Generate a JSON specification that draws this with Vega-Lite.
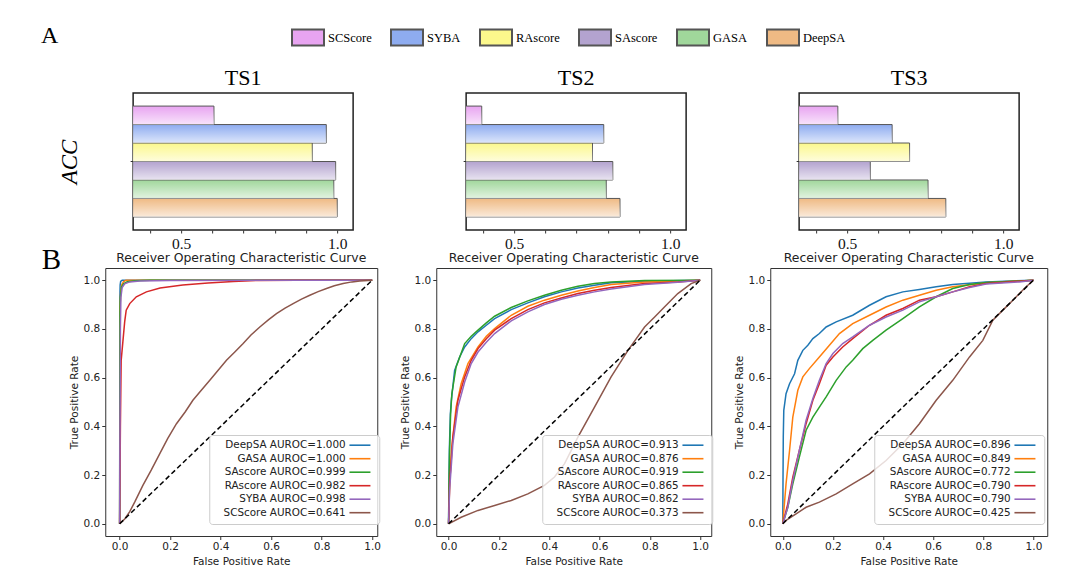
{
  "$schema": "https://vega.github.io/schema/vega-lite/v6.json",
  "background": "white",
  "padding": {"left": 41, "top": 20, "right": 5, "bottom": 5},
  "config": {
    "font": "DejaVu Sans",
    "view": {"stroke": "#333", "strokeWidth": 1},
    "axis": {"grid": false, "domain": false, "tickColor": "#333", "labelColor": "#222", "titleColor": "#222", "titleFontWeight": "normal", "labelFlush": false},
    "title": {"fontWeight": "normal", "color": "#111"}
  },
  "datasets": {
    "acc": [
      {"panel": "TS1", "metric": "ACC", "model": "SCScore", "acc": 0.605},
      {"panel": "TS1", "metric": "ACC", "model": "SYBA", "acc": 0.965},
      {"panel": "TS1", "metric": "ACC", "model": "RAscore", "acc": 0.92},
      {"panel": "TS1", "metric": "ACC", "model": "SAscore", "acc": 0.995},
      {"panel": "TS1", "metric": "ACC", "model": "GASA", "acc": 0.989},
      {"panel": "TS1", "metric": "ACC", "model": "DeepSA", "acc": 1.0},
      {"panel": "TS2", "metric": "ACC", "model": "SCScore", "acc": 0.396},
      {"panel": "TS2", "metric": "ACC", "model": "SYBA", "acc": 0.787},
      {"panel": "TS2", "metric": "ACC", "model": "RAscore", "acc": 0.751},
      {"panel": "TS2", "metric": "ACC", "model": "SAscore", "acc": 0.816},
      {"panel": "TS2", "metric": "ACC", "model": "GASA", "acc": 0.795},
      {"panel": "TS2", "metric": "ACC", "model": "DeepSA", "acc": 0.839},
      {"panel": "TS3", "metric": "ACC", "model": "SCScore", "acc": 0.47},
      {"panel": "TS3", "metric": "ACC", "model": "SYBA", "acc": 0.644},
      {"panel": "TS3", "metric": "ACC", "model": "RAscore", "acc": 0.7},
      {"panel": "TS3", "metric": "ACC", "model": "SAscore", "acc": 0.574},
      {"panel": "TS3", "metric": "ACC", "model": "GASA", "acc": 0.759},
      {"panel": "TS3", "metric": "ACC", "model": "DeepSA", "acc": 0.816}
    ],
    "diag": [{"x": 0, "y": 0}, {"x": 1, "y": 1}],
    "roc": [
      {"p":"TS1","m":"DeepSA","x":0,"y":0},{"p":"TS1","m":"DeepSA","x":0.001,"y":0.93},{"p":"TS1","m":"DeepSA","x":0.002,"y":0.98},{"p":"TS1","m":"DeepSA","x":0.004,"y":0.995},{"p":"TS1","m":"DeepSA","x":0.01,"y":1},{"p":"TS1","m":"DeepSA","x":1,"y":1},
      {"p":"TS1","m":"GASA","x":0,"y":0},{"p":"TS1","m":"GASA","x":0.0015,"y":0.88},{"p":"TS1","m":"GASA","x":0.004,"y":0.95},{"p":"TS1","m":"GASA","x":0.008,"y":0.98},{"p":"TS1","m":"GASA","x":0.015,"y":0.993},{"p":"TS1","m":"GASA","x":0.025,"y":1},{"p":"TS1","m":"GASA","x":1,"y":1},
      {"p":"TS1","m":"SAscore","x":0,"y":0},{"p":"TS1","m":"SAscore","x":0.0012,"y":0.86},{"p":"TS1","m":"SAscore","x":0.003,"y":0.93},{"p":"TS1","m":"SAscore","x":0.007,"y":0.97},{"p":"TS1","m":"SAscore","x":0.015,"y":0.985},{"p":"TS1","m":"SAscore","x":0.03,"y":0.994},{"p":"TS1","m":"SAscore","x":0.06,"y":0.998},{"p":"TS1","m":"SAscore","x":0.12,"y":1},{"p":"TS1","m":"SAscore","x":1,"y":1},
      {"p":"TS1","m":"RAscore","x":0,"y":0},{"p":"TS1","m":"RAscore","x":0.003,"y":0.4},{"p":"TS1","m":"RAscore","x":0.006,"y":0.67},{"p":"TS1","m":"RAscore","x":0.013,"y":0.75},{"p":"TS1","m":"RAscore","x":0.02,"y":0.83},{"p":"TS1","m":"RAscore","x":0.026,"y":0.877},{"p":"TS1","m":"RAscore","x":0.04,"y":0.904},{"p":"TS1","m":"RAscore","x":0.066,"y":0.932},{"p":"TS1","m":"RAscore","x":0.106,"y":0.952},{"p":"TS1","m":"RAscore","x":0.16,"y":0.968},{"p":"TS1","m":"RAscore","x":0.25,"y":0.98},{"p":"TS1","m":"RAscore","x":0.35,"y":0.988},{"p":"TS1","m":"RAscore","x":0.45,"y":0.995},{"p":"TS1","m":"RAscore","x":0.55,"y":0.999},{"p":"TS1","m":"RAscore","x":0.7,"y":1},{"p":"TS1","m":"RAscore","x":1,"y":1},
      {"p":"TS1","m":"SYBA","x":0,"y":0},{"p":"TS1","m":"SYBA","x":0.0015,"y":0.4},{"p":"TS1","m":"SYBA","x":0.003,"y":0.8},{"p":"TS1","m":"SYBA","x":0.005,"y":0.93},{"p":"TS1","m":"SYBA","x":0.01,"y":0.97},{"p":"TS1","m":"SYBA","x":0.02,"y":0.985},{"p":"TS1","m":"SYBA","x":0.04,"y":0.993},{"p":"TS1","m":"SYBA","x":0.08,"y":0.997},{"p":"TS1","m":"SYBA","x":0.2,"y":0.999},{"p":"TS1","m":"SYBA","x":1,"y":1},
      {"p":"TS1","m":"SCScore","x":0,"y":0},{"p":"TS1","m":"SCScore","x":0.02,"y":0.02},{"p":"TS1","m":"SCScore","x":0.04,"y":0.05},{"p":"TS1","m":"SCScore","x":0.06,"y":0.09},{"p":"TS1","m":"SCScore","x":0.092,"y":0.158},{"p":"TS1","m":"SCScore","x":0.125,"y":0.22},{"p":"TS1","m":"SCScore","x":0.159,"y":0.288},{"p":"TS1","m":"SCScore","x":0.19,"y":0.35},{"p":"TS1","m":"SCScore","x":0.225,"y":0.411},{"p":"TS1","m":"SCScore","x":0.26,"y":0.46},{"p":"TS1","m":"SCScore","x":0.29,"y":0.507},{"p":"TS1","m":"SCScore","x":0.325,"y":0.55},{"p":"TS1","m":"SCScore","x":0.357,"y":0.589},{"p":"TS1","m":"SCScore","x":0.39,"y":0.63},{"p":"TS1","m":"SCScore","x":0.423,"y":0.671},{"p":"TS1","m":"SCScore","x":0.456,"y":0.705},{"p":"TS1","m":"SCScore","x":0.489,"y":0.74},{"p":"TS1","m":"SCScore","x":0.52,"y":0.775},{"p":"TS1","m":"SCScore","x":0.555,"y":0.808},{"p":"TS1","m":"SCScore","x":0.59,"y":0.838},{"p":"TS1","m":"SCScore","x":0.621,"y":0.863},{"p":"TS1","m":"SCScore","x":0.655,"y":0.885},{"p":"TS1","m":"SCScore","x":0.687,"y":0.904},{"p":"TS1","m":"SCScore","x":0.72,"y":0.922},{"p":"TS1","m":"SCScore","x":0.753,"y":0.938},{"p":"TS1","m":"SCScore","x":0.786,"y":0.953},{"p":"TS1","m":"SCScore","x":0.819,"y":0.966},{"p":"TS1","m":"SCScore","x":0.85,"y":0.977},{"p":"TS1","m":"SCScore","x":0.885,"y":0.986},{"p":"TS1","m":"SCScore","x":0.92,"y":0.993},{"p":"TS1","m":"SCScore","x":0.951,"y":0.997},{"p":"TS1","m":"SCScore","x":1,"y":1},
      {"p":"TS2","m":"DeepSA","x":0,"y":0},{"p":"TS2","m":"DeepSA","x":0.003,"y":0.3},{"p":"TS2","m":"DeepSA","x":0.007,"y":0.45},{"p":"TS2","m":"DeepSA","x":0.011,"y":0.507},{"p":"TS2","m":"DeepSA","x":0.024,"y":0.63},{"p":"TS2","m":"DeepSA","x":0.044,"y":0.685},{"p":"TS2","m":"DeepSA","x":0.064,"y":0.726},{"p":"TS2","m":"DeepSA","x":0.09,"y":0.76},{"p":"TS2","m":"DeepSA","x":0.117,"y":0.788},{"p":"TS2","m":"DeepSA","x":0.15,"y":0.815},{"p":"TS2","m":"DeepSA","x":0.183,"y":0.842},{"p":"TS2","m":"DeepSA","x":0.249,"y":0.879},{"p":"TS2","m":"DeepSA","x":0.315,"y":0.907},{"p":"TS2","m":"DeepSA","x":0.381,"y":0.932},{"p":"TS2","m":"DeepSA","x":0.448,"y":0.952},{"p":"TS2","m":"DeepSA","x":0.514,"y":0.968},{"p":"TS2","m":"DeepSA","x":0.58,"y":0.979},{"p":"TS2","m":"DeepSA","x":0.646,"y":0.989},{"p":"TS2","m":"DeepSA","x":0.779,"y":0.996},{"p":"TS2","m":"DeepSA","x":1,"y":1},
      {"p":"TS2","m":"GASA","x":0,"y":0},{"p":"TS2","m":"GASA","x":0.004,"y":0.15},{"p":"TS2","m":"GASA","x":0.011,"y":0.3},{"p":"TS2","m":"GASA","x":0.03,"y":0.479},{"p":"TS2","m":"GASA","x":0.05,"y":0.575},{"p":"TS2","m":"GASA","x":0.077,"y":0.658},{"p":"TS2","m":"GASA","x":0.117,"y":0.726},{"p":"TS2","m":"GASA","x":0.15,"y":0.77},{"p":"TS2","m":"GASA","x":0.183,"y":0.801},{"p":"TS2","m":"GASA","x":0.249,"y":0.856},{"p":"TS2","m":"GASA","x":0.315,"y":0.893},{"p":"TS2","m":"GASA","x":0.381,"y":0.918},{"p":"TS2","m":"GASA","x":0.448,"y":0.938},{"p":"TS2","m":"GASA","x":0.514,"y":0.956},{"p":"TS2","m":"GASA","x":0.58,"y":0.97},{"p":"TS2","m":"GASA","x":0.646,"y":0.982},{"p":"TS2","m":"GASA","x":0.779,"y":0.993},{"p":"TS2","m":"GASA","x":1,"y":1},
      {"p":"TS2","m":"SAscore","x":0,"y":0},{"p":"TS2","m":"SAscore","x":0.002,"y":0.2},{"p":"TS2","m":"SAscore","x":0.004,"y":0.3},{"p":"TS2","m":"SAscore","x":0.008,"y":0.45},{"p":"TS2","m":"SAscore","x":0.013,"y":0.534},{"p":"TS2","m":"SAscore","x":0.03,"y":0.644},{"p":"TS2","m":"SAscore","x":0.064,"y":0.74},{"p":"TS2","m":"SAscore","x":0.09,"y":0.77},{"p":"TS2","m":"SAscore","x":0.117,"y":0.795},{"p":"TS2","m":"SAscore","x":0.15,"y":0.825},{"p":"TS2","m":"SAscore","x":0.183,"y":0.852},{"p":"TS2","m":"SAscore","x":0.249,"y":0.888},{"p":"TS2","m":"SAscore","x":0.315,"y":0.915},{"p":"TS2","m":"SAscore","x":0.381,"y":0.938},{"p":"TS2","m":"SAscore","x":0.448,"y":0.959},{"p":"TS2","m":"SAscore","x":0.514,"y":0.975},{"p":"TS2","m":"SAscore","x":0.58,"y":0.986},{"p":"TS2","m":"SAscore","x":0.646,"y":0.993},{"p":"TS2","m":"SAscore","x":0.779,"y":0.999},{"p":"TS2","m":"SAscore","x":1,"y":1},
      {"p":"TS2","m":"RAscore","x":0,"y":0},{"p":"TS2","m":"RAscore","x":0.004,"y":0.164},{"p":"TS2","m":"RAscore","x":0.017,"y":0.356},{"p":"TS2","m":"RAscore","x":0.037,"y":0.507},{"p":"TS2","m":"RAscore","x":0.064,"y":0.603},{"p":"TS2","m":"RAscore","x":0.09,"y":0.671},{"p":"TS2","m":"RAscore","x":0.117,"y":0.719},{"p":"TS2","m":"RAscore","x":0.15,"y":0.76},{"p":"TS2","m":"RAscore","x":0.183,"y":0.795},{"p":"TS2","m":"RAscore","x":0.249,"y":0.842},{"p":"TS2","m":"RAscore","x":0.315,"y":0.879},{"p":"TS2","m":"RAscore","x":0.381,"y":0.907},{"p":"TS2","m":"RAscore","x":0.448,"y":0.927},{"p":"TS2","m":"RAscore","x":0.514,"y":0.945},{"p":"TS2","m":"RAscore","x":0.58,"y":0.959},{"p":"TS2","m":"RAscore","x":0.646,"y":0.97},{"p":"TS2","m":"RAscore","x":0.779,"y":0.986},{"p":"TS2","m":"RAscore","x":0.911,"y":0.993},{"p":"TS2","m":"RAscore","x":1,"y":1},
      {"p":"TS2","m":"SYBA","x":0,"y":0},{"p":"TS2","m":"SYBA","x":0.004,"y":0.137},{"p":"TS2","m":"SYBA","x":0.017,"y":0.329},{"p":"TS2","m":"SYBA","x":0.037,"y":0.479},{"p":"TS2","m":"SYBA","x":0.064,"y":0.582},{"p":"TS2","m":"SYBA","x":0.09,"y":0.658},{"p":"TS2","m":"SYBA","x":0.117,"y":0.705},{"p":"TS2","m":"SYBA","x":0.15,"y":0.745},{"p":"TS2","m":"SYBA","x":0.183,"y":0.781},{"p":"TS2","m":"SYBA","x":0.249,"y":0.833},{"p":"TS2","m":"SYBA","x":0.315,"y":0.87},{"p":"TS2","m":"SYBA","x":0.381,"y":0.9},{"p":"TS2","m":"SYBA","x":0.448,"y":0.922},{"p":"TS2","m":"SYBA","x":0.514,"y":0.938},{"p":"TS2","m":"SYBA","x":0.58,"y":0.952},{"p":"TS2","m":"SYBA","x":0.646,"y":0.964},{"p":"TS2","m":"SYBA","x":0.779,"y":0.982},{"p":"TS2","m":"SYBA","x":0.911,"y":0.992},{"p":"TS2","m":"SYBA","x":1,"y":1},
      {"p":"TS2","m":"SCScore","x":0,"y":0},{"p":"TS2","m":"SCScore","x":0.05,"y":0.027},{"p":"TS2","m":"SCScore","x":0.117,"y":0.055},{"p":"TS2","m":"SCScore","x":0.183,"y":0.075},{"p":"TS2","m":"SCScore","x":0.249,"y":0.096},{"p":"TS2","m":"SCScore","x":0.315,"y":0.123},{"p":"TS2","m":"SCScore","x":0.381,"y":0.158},{"p":"TS2","m":"SCScore","x":0.421,"y":0.192},{"p":"TS2","m":"SCScore","x":0.461,"y":0.247},{"p":"TS2","m":"SCScore","x":0.514,"y":0.356},{"p":"TS2","m":"SCScore","x":0.58,"y":0.479},{"p":"TS2","m":"SCScore","x":0.646,"y":0.603},{"p":"TS2","m":"SCScore","x":0.713,"y":0.712},{"p":"TS2","m":"SCScore","x":0.779,"y":0.808},{"p":"TS2","m":"SCScore","x":0.819,"y":0.849},{"p":"TS2","m":"SCScore","x":0.858,"y":0.89},{"p":"TS2","m":"SCScore","x":0.911,"y":0.945},{"p":"TS2","m":"SCScore","x":0.964,"y":0.986},{"p":"TS2","m":"SCScore","x":1,"y":1},
      {"p":"TS3","m":"DeepSA","x":0,"y":0},{"p":"TS3","m":"DeepSA","x":0.001,"y":0.2},{"p":"TS3","m":"DeepSA","x":0.002,"y":0.356},{"p":"TS3","m":"DeepSA","x":0.004,"y":0.466},{"p":"TS3","m":"DeepSA","x":0.013,"y":0.534},{"p":"TS3","m":"DeepSA","x":0.027,"y":0.575},{"p":"TS3","m":"DeepSA","x":0.047,"y":0.616},{"p":"TS3","m":"DeepSA","x":0.06,"y":0.671},{"p":"TS3","m":"DeepSA","x":0.08,"y":0.712},{"p":"TS3","m":"DeepSA","x":0.1,"y":0.733},{"p":"TS3","m":"DeepSA","x":0.12,"y":0.76},{"p":"TS3","m":"DeepSA","x":0.146,"y":0.781},{"p":"TS3","m":"DeepSA","x":0.173,"y":0.808},{"p":"TS3","m":"DeepSA","x":0.213,"y":0.829},{"p":"TS3","m":"DeepSA","x":0.279,"y":0.856},{"p":"TS3","m":"DeepSA","x":0.346,"y":0.897},{"p":"TS3","m":"DeepSA","x":0.412,"y":0.932},{"p":"TS3","m":"DeepSA","x":0.479,"y":0.952},{"p":"TS3","m":"DeepSA","x":0.545,"y":0.962},{"p":"TS3","m":"DeepSA","x":0.612,"y":0.973},{"p":"TS3","m":"DeepSA","x":0.678,"y":0.982},{"p":"TS3","m":"DeepSA","x":0.811,"y":0.993},{"p":"TS3","m":"DeepSA","x":1,"y":1},
      {"p":"TS3","m":"GASA","x":0,"y":0},{"p":"TS3","m":"GASA","x":0.013,"y":0.164},{"p":"TS3","m":"GASA","x":0.027,"y":0.301},{"p":"TS3","m":"GASA","x":0.04,"y":0.438},{"p":"TS3","m":"GASA","x":0.06,"y":0.548},{"p":"TS3","m":"GASA","x":0.08,"y":0.603},{"p":"TS3","m":"GASA","x":0.106,"y":0.637},{"p":"TS3","m":"GASA","x":0.146,"y":0.685},{"p":"TS3","m":"GASA","x":0.186,"y":0.733},{"p":"TS3","m":"GASA","x":0.226,"y":0.781},{"p":"TS3","m":"GASA","x":0.279,"y":0.822},{"p":"TS3","m":"GASA","x":0.346,"y":0.856},{"p":"TS3","m":"GASA","x":0.412,"y":0.89},{"p":"TS3","m":"GASA","x":0.479,"y":0.918},{"p":"TS3","m":"GASA","x":0.545,"y":0.938},{"p":"TS3","m":"GASA","x":0.612,"y":0.959},{"p":"TS3","m":"GASA","x":0.678,"y":0.973},{"p":"TS3","m":"GASA","x":0.811,"y":0.989},{"p":"TS3","m":"GASA","x":1,"y":1},
      {"p":"TS3","m":"SAscore","x":0,"y":0},{"p":"TS3","m":"SAscore","x":0.02,"y":0.068},{"p":"TS3","m":"SAscore","x":0.04,"y":0.164},{"p":"TS3","m":"SAscore","x":0.066,"y":0.274},{"p":"TS3","m":"SAscore","x":0.093,"y":0.384},{"p":"TS3","m":"SAscore","x":0.12,"y":0.438},{"p":"TS3","m":"SAscore","x":0.146,"y":0.479},{"p":"TS3","m":"SAscore","x":0.173,"y":0.521},{"p":"TS3","m":"SAscore","x":0.213,"y":0.589},{"p":"TS3","m":"SAscore","x":0.253,"y":0.644},{"p":"TS3","m":"SAscore","x":0.279,"y":0.671},{"p":"TS3","m":"SAscore","x":0.319,"y":0.719},{"p":"TS3","m":"SAscore","x":0.359,"y":0.753},{"p":"TS3","m":"SAscore","x":0.412,"y":0.795},{"p":"TS3","m":"SAscore","x":0.479,"y":0.842},{"p":"TS3","m":"SAscore","x":0.545,"y":0.89},{"p":"TS3","m":"SAscore","x":0.612,"y":0.932},{"p":"TS3","m":"SAscore","x":0.678,"y":0.966},{"p":"TS3","m":"SAscore","x":0.745,"y":0.982},{"p":"TS3","m":"SAscore","x":0.811,"y":0.99},{"p":"TS3","m":"SAscore","x":0.944,"y":0.997},{"p":"TS3","m":"SAscore","x":1,"y":1},
      {"p":"TS3","m":"RAscore","x":0,"y":0},{"p":"TS3","m":"RAscore","x":0.02,"y":0.082},{"p":"TS3","m":"RAscore","x":0.04,"y":0.192},{"p":"TS3","m":"RAscore","x":0.066,"y":0.301},{"p":"TS3","m":"RAscore","x":0.093,"y":0.411},{"p":"TS3","m":"RAscore","x":0.12,"y":0.507},{"p":"TS3","m":"RAscore","x":0.146,"y":0.575},{"p":"TS3","m":"RAscore","x":0.173,"y":0.651},{"p":"TS3","m":"RAscore","x":0.2,"y":0.685},{"p":"TS3","m":"RAscore","x":0.239,"y":0.726},{"p":"TS3","m":"RAscore","x":0.279,"y":0.76},{"p":"TS3","m":"RAscore","x":0.346,"y":0.815},{"p":"TS3","m":"RAscore","x":0.412,"y":0.856},{"p":"TS3","m":"RAscore","x":0.479,"y":0.884},{"p":"TS3","m":"RAscore","x":0.545,"y":0.918},{"p":"TS3","m":"RAscore","x":0.612,"y":0.932},{"p":"TS3","m":"RAscore","x":0.678,"y":0.952},{"p":"TS3","m":"RAscore","x":0.745,"y":0.973},{"p":"TS3","m":"RAscore","x":0.811,"y":0.986},{"p":"TS3","m":"RAscore","x":0.944,"y":0.996},{"p":"TS3","m":"RAscore","x":1,"y":1},
      {"p":"TS3","m":"SYBA","x":0,"y":0},{"p":"TS3","m":"SYBA","x":0.02,"y":0.068},{"p":"TS3","m":"SYBA","x":0.04,"y":0.178},{"p":"TS3","m":"SYBA","x":0.066,"y":0.301},{"p":"TS3","m":"SYBA","x":0.093,"y":0.425},{"p":"TS3","m":"SYBA","x":0.12,"y":0.514},{"p":"TS3","m":"SYBA","x":0.146,"y":0.589},{"p":"TS3","m":"SYBA","x":0.173,"y":0.658},{"p":"TS3","m":"SYBA","x":0.2,"y":0.699},{"p":"TS3","m":"SYBA","x":0.239,"y":0.74},{"p":"TS3","m":"SYBA","x":0.279,"y":0.767},{"p":"TS3","m":"SYBA","x":0.346,"y":0.815},{"p":"TS3","m":"SYBA","x":0.412,"y":0.849},{"p":"TS3","m":"SYBA","x":0.479,"y":0.877},{"p":"TS3","m":"SYBA","x":0.545,"y":0.911},{"p":"TS3","m":"SYBA","x":0.612,"y":0.932},{"p":"TS3","m":"SYBA","x":0.678,"y":0.952},{"p":"TS3","m":"SYBA","x":0.745,"y":0.97},{"p":"TS3","m":"SYBA","x":0.811,"y":0.984},{"p":"TS3","m":"SYBA","x":0.944,"y":0.993},{"p":"TS3","m":"SYBA","x":1,"y":1},
      {"p":"TS3","m":"SCScore","x":0,"y":0},{"p":"TS3","m":"SCScore","x":0.013,"y":0.014},{"p":"TS3","m":"SCScore","x":0.053,"y":0.041},{"p":"TS3","m":"SCScore","x":0.093,"y":0.068},{"p":"TS3","m":"SCScore","x":0.146,"y":0.089},{"p":"TS3","m":"SCScore","x":0.213,"y":0.123},{"p":"TS3","m":"SCScore","x":0.279,"y":0.164},{"p":"TS3","m":"SCScore","x":0.346,"y":0.205},{"p":"TS3","m":"SCScore","x":0.412,"y":0.26},{"p":"TS3","m":"SCScore","x":0.479,"y":0.329},{"p":"TS3","m":"SCScore","x":0.545,"y":0.411},{"p":"TS3","m":"SCScore","x":0.612,"y":0.507},{"p":"TS3","m":"SCScore","x":0.678,"y":0.589},{"p":"TS3","m":"SCScore","x":0.745,"y":0.685},{"p":"TS3","m":"SCScore","x":0.798,"y":0.753},{"p":"TS3","m":"SCScore","x":0.838,"y":0.836},{"p":"TS3","m":"SCScore","x":0.878,"y":0.877},{"p":"TS3","m":"SCScore","x":0.918,"y":0.918},{"p":"TS3","m":"SCScore","x":0.971,"y":0.973},{"p":"TS3","m":"SCScore","x":1,"y":1}
    ]
  },
  "center": true,
  "spacing": -7,
  "vconcat": [
    {
      "bounds": "flush",
      "spacing": 113,
      "hconcat": [
        {
          "width": 220, "height": 137,
          "title": {"text": "TS1", "font": "Liberation Serif", "fontSize": 22, "offset": 3, "color": "#000"},
          "view": {"stroke": "#222", "strokeWidth": 1.5},
          "data": {"name": "acc"},
          "transform": [{"filter": "datum.panel == 'TS1'"}],
          "encoding": {
            "x": {"field": "acc", "type": "quantitative", "scale": {"domain": [0.346, 1.051], "nice": false, "zero": false},
              "axis": {"values": [0.4, 0.5, 0.6, 0.7, 0.8, 0.9, 1.0], "labelExpr": "datum.value == 0.5 || datum.value == 1 ? format(datum.value, '.1f') : ''", "tickSize": 3, "labelFont": "Liberation Serif", "labelFontSize": 15.5, "labelPadding": 3, "labelColor": "#111", "title": null}},
            "y": {"field": "metric", "type": "nominal", "scale": {"paddingInner": 0, "paddingOuter": 0.118},
              "axis": {"labels": false, "tickSize": 3, "title": "ACC", "titleFont": "Liberation Serif", "titleFontStyle": "italic", "titleFontSize": 23, "titlePadding": 48, "titleColor": "#000"}},
            "yOffset": {"field": "model", "type": "nominal", "sort": ["SCScore", "SYBA", "RAscore", "SAscore", "GASA", "DeepSA"], "scale": {"paddingInner": 0, "paddingOuter": 0}}
          },
          "layer": [
            {"mark": {"type": "bar", "clip": true, "stroke": "#555", "strokeWidth": 1},
             "encoding": {"color": {"field": "model", "type": "nominal",
               "scale": {"domain": ["SCScore", "SYBA", "RAscore", "SAscore", "GASA", "DeepSA"], "range": ["#e8a4f1", "#8eacf0", "#fcf88c", "#b3a3cf", "#a0d79b", "#efba84"]},
               "legend": {"orient": "none", "legendX": -64, "legendY": -72.5, "direction": "horizontal", "title": "A", "titleOrient": "left", "titleFont": "Liberation Serif", "titleFontSize": 24, "titleFontWeight": "normal", "titleColor": "#000", "titlePadding": 232, "symbolType": "M-1,-0.5H1V0.5H-1Z", "symbolSize": 1024, "symbolStrokeColor": "#000", "symbolStrokeWidth": 2, "symbolOpacity": 1, "labelFont": "Liberation Serif", "labelFontSize": 12.5, "labelColor": "#000", "labelOffset": 3, "columnPadding": 15, "padding": 0}}}},
            {"mark": {"type": "bar", "clip": true, "strokeWidth": 0, "fill": {"gradient": "linear", "x1": 0, "y1": 0, "x2": 0, "y2": 1, "stops": [{"offset": 0, "color": "rgba(255,255,255,0)"}, {"offset": 1, "color": "rgba(255,255,255,0.7)"}]}}}
          ]
        },
        {
          "width": 220, "height": 137,
          "title": {"text": "TS2", "font": "Liberation Serif", "fontSize": 22, "offset": 3, "color": "#000"},
          "view": {"stroke": "#222", "strokeWidth": 1.5},
          "data": {"name": "acc"},
          "transform": [{"filter": "datum.panel == 'TS2'"}],
          "encoding": {
            "x": {"field": "acc", "type": "quantitative", "scale": {"domain": [0.346, 1.051], "nice": false, "zero": false},
              "axis": {"values": [0.4, 0.5, 0.6, 0.7, 0.8, 0.9, 1.0], "labelExpr": "datum.value == 0.5 || datum.value == 1 ? format(datum.value, '.1f') : ''", "tickSize": 3, "labelFont": "Liberation Serif", "labelFontSize": 15.5, "labelPadding": 3, "labelColor": "#111", "title": null}},
            "y": {"field": "metric", "type": "nominal", "scale": {"paddingInner": 0, "paddingOuter": 0.118},
              "axis": {"labels": false, "tickSize": 3, "title": null}},
            "yOffset": {"field": "model", "type": "nominal", "sort": ["SCScore", "SYBA", "RAscore", "SAscore", "GASA", "DeepSA"], "scale": {"paddingInner": 0, "paddingOuter": 0}}
          },
          "layer": [
            {"mark": {"type": "bar", "clip": true, "stroke": "#555", "strokeWidth": 1},
             "encoding": {"color": {"field": "model", "type": "nominal",
               "scale": {"domain": ["SCScore", "SYBA", "RAscore", "SAscore", "GASA", "DeepSA"], "range": ["#e8a4f1", "#8eacf0", "#fcf88c", "#b3a3cf", "#a0d79b", "#efba84"]}}}},
            {"mark": {"type": "bar", "clip": true, "strokeWidth": 0, "fill": {"gradient": "linear", "x1": 0, "y1": 0, "x2": 0, "y2": 1, "stops": [{"offset": 0, "color": "rgba(255,255,255,0)"}, {"offset": 1, "color": "rgba(255,255,255,0.7)"}]}}}
          ]
        },
        {
          "width": 220, "height": 137,
          "title": {"text": "TS3", "font": "Liberation Serif", "fontSize": 22, "offset": 3, "color": "#000"},
          "view": {"stroke": "#222", "strokeWidth": 1.5},
          "data": {"name": "acc"},
          "transform": [{"filter": "datum.panel == 'TS3'"}],
          "encoding": {
            "x": {"field": "acc", "type": "quantitative", "scale": {"domain": [0.346, 1.051], "nice": false, "zero": false},
              "axis": {"values": [0.4, 0.5, 0.6, 0.7, 0.8, 0.9, 1.0], "labelExpr": "datum.value == 0.5 || datum.value == 1 ? format(datum.value, '.1f') : ''", "tickSize": 3, "labelFont": "Liberation Serif", "labelFontSize": 15.5, "labelPadding": 3, "labelColor": "#111", "title": null}},
            "y": {"field": "metric", "type": "nominal", "scale": {"paddingInner": 0, "paddingOuter": 0.118},
              "axis": {"labels": false, "tickSize": 3, "title": null}},
            "yOffset": {"field": "model", "type": "nominal", "sort": ["SCScore", "SYBA", "RAscore", "SAscore", "GASA", "DeepSA"], "scale": {"paddingInner": 0, "paddingOuter": 0}}
          },
          "layer": [
            {"mark": {"type": "bar", "clip": true, "stroke": "#555", "strokeWidth": 1},
             "encoding": {"color": {"field": "model", "type": "nominal",
               "scale": {"domain": ["SCScore", "SYBA", "RAscore", "SAscore", "GASA", "DeepSA"], "range": ["#e8a4f1", "#8eacf0", "#fcf88c", "#b3a3cf", "#a0d79b", "#efba84"]}}}},
            {"mark": {"type": "bar", "clip": true, "strokeWidth": 0, "fill": {"gradient": "linear", "x1": 0, "y1": 0, "x2": 0, "y2": 1, "stops": [{"offset": 0, "color": "rgba(255,255,255,0)"}, {"offset": 1, "color": "rgba(255,255,255,0.7)"}]}}}
          ]
        }
      ]
    },
    {
      "title": {"text": "B", "orient": "left", "anchor": "end", "angle": 0, "align": "right", "baseline": "top", "font": "Liberation Serif", "fontSize": 29, "offset": -12, "dy": -5, "color": "#000", "frame": "bounds"},
      "bounds": "flush",
      "spacing": 59,
      "resolve": {"scale": {"color": "independent"}, "legend": {"color": "independent"}},
      "hconcat": [
        {
          "width": 272, "height": 268,
          "title": {"text": "Receiver Operating Characteristic Curve", "font": "DejaVu Sans", "fontSize": 12.4, "offset": 4, "color": "#222"},
          "layer": [
            {"data": {"name": "roc"}, "transform": [{"filter": "datum.p == 'TS1'"}],
             "mark": {"type": "line", "strokeWidth": 1.5},
             "encoding": {
               "x": {"field": "x", "type": "quantitative", "scale": {"domain": [-0.057, 1.02], "nice": false, "zero": false}, "axis": {"values": [0, 0.2, 0.4, 0.6, 0.8, 1], "format": ".1f", "title": "False Positive Rate", "tickSize": 3.5, "labelPadding": 2, "labelFontSize": 10.5, "titleFontSize": 10.5, "titlePadding": 4}},
               "y": {"field": "y", "type": "quantitative", "scale": {"domain": [-0.05, 1.05], "nice": false, "zero": false}, "axis": {"values": [0, 0.2, 0.4, 0.6, 0.8, 1], "format": ".1f", "title": "True Positive Rate", "tickSize": 3.5, "labelPadding": 2, "labelFontSize": 10.5, "titleFontSize": 10.5, "titlePadding": 4}},
               "color": {"field": "m", "type": "nominal", "sort": null,
                 "scale": {"domain": ["DeepSA", "GASA", "SAscore", "RAscore", "SYBA", "SCScore"], "range": ["#1f77b4", "#ff7f0e", "#2ca02c", "#d62728", "#9467bd", "#8c564b"]},
                 "legend": {"orient": "none", "legendX": 104, "legendY": 167, "title": null, "symbolType": "M130,0H151", "symbolSize": 4, "symbolStrokeWidth": 1.6, "labelAlign": "right", "labelOffset": 121, "labelLimit": 300, "labelFont": "DejaVu Sans", "labelFontSize": 10.4, "labelColor": "#222", "fillColor": "rgba(255,255,255,0.8)", "strokeColor": "#cccccc", "cornerRadius": 3, "padding": 5, "rowPadding": 2.5,
                   "labelExpr": "datum.label + ' AUROC=' + (datum.label == 'DeepSA' ? '1.000' : datum.label == 'GASA' ? '1.000' : datum.label == 'SAscore' ? '0.999' : datum.label == 'RAscore' ? '0.982' : datum.label == 'SYBA' ? '0.998' : '0.641')"}}
             }},
            {"data": {"name": "diag"}, "mark": {"type": "line", "color": "#000", "strokeDash": [5, 3], "strokeWidth": 1.5},
             "encoding": {"x": {"field": "x", "type": "quantitative"}, "y": {"field": "y", "type": "quantitative"}}}
          ]
        },
        {
          "width": 275, "height": 268,
          "title": {"text": "Receiver Operating Characteristic Curve", "font": "DejaVu Sans", "fontSize": 12.4, "offset": 4, "color": "#222"},
          "layer": [
            {"data": {"name": "roc"}, "transform": [{"filter": "datum.p == 'TS2'"}],
             "mark": {"type": "line", "strokeWidth": 1.5},
             "encoding": {
               "x": {"field": "x", "type": "quantitative", "scale": {"domain": [-0.049, 1.044], "nice": false, "zero": false}, "axis": {"values": [0, 0.2, 0.4, 0.6, 0.8, 1], "format": ".1f", "title": "False Positive Rate", "tickSize": 3.5, "labelPadding": 2, "labelFontSize": 10.5, "titleFontSize": 10.5, "titlePadding": 4}},
               "y": {"field": "y", "type": "quantitative", "scale": {"domain": [-0.05, 1.05], "nice": false, "zero": false}, "axis": {"values": [0, 0.2, 0.4, 0.6, 0.8, 1], "format": ".1f", "title": "True Positive Rate", "tickSize": 3.5, "labelPadding": 2, "labelFontSize": 10.5, "titleFontSize": 10.5, "titlePadding": 4}},
               "color": {"field": "m", "type": "nominal", "sort": null,
                 "scale": {"domain": ["DeepSA", "GASA", "SAscore", "RAscore", "SYBA", "SCScore"], "range": ["#1f77b4", "#ff7f0e", "#2ca02c", "#d62728", "#9467bd", "#8c564b"]},
                 "legend": {"orient": "none", "legendX": 106, "legendY": 167, "title": null, "symbolType": "M130,0H151", "symbolSize": 4, "symbolStrokeWidth": 1.6, "labelAlign": "right", "labelOffset": 121, "labelLimit": 300, "labelFont": "DejaVu Sans", "labelFontSize": 10.4, "labelColor": "#222", "fillColor": "rgba(255,255,255,0.8)", "strokeColor": "#cccccc", "cornerRadius": 3, "padding": 5, "rowPadding": 2.5,
                   "labelExpr": "datum.label + ' AUROC=' + (datum.label == 'DeepSA' ? '0.913' : datum.label == 'GASA' ? '0.876' : datum.label == 'SAscore' ? '0.919' : datum.label == 'RAscore' ? '0.865' : datum.label == 'SYBA' ? '0.862' : '0.373')"}}
             }},
            {"data": {"name": "diag"}, "mark": {"type": "line", "color": "#000", "strokeDash": [5, 3], "strokeWidth": 1.5},
             "encoding": {"x": {"field": "x", "type": "quantitative"}, "y": {"field": "y", "type": "quantitative"}}}
          ]
        },
        {
          "width": 277, "height": 268,
          "title": {"text": "Receiver Operating Characteristic Curve", "font": "DejaVu Sans", "fontSize": 12.4, "offset": 4, "color": "#222"},
          "layer": [
            {"data": {"name": "roc"}, "transform": [{"filter": "datum.p == 'TS3'"}],
             "mark": {"type": "line", "strokeWidth": 1.5},
             "encoding": {
               "x": {"field": "x", "type": "quantitative", "scale": {"domain": [-0.05, 1.055], "nice": false, "zero": false}, "axis": {"values": [0, 0.2, 0.4, 0.6, 0.8, 1], "format": ".1f", "title": "False Positive Rate", "tickSize": 3.5, "labelPadding": 2, "labelFontSize": 10.5, "titleFontSize": 10.5, "titlePadding": 4}},
               "y": {"field": "y", "type": "quantitative", "scale": {"domain": [-0.05, 1.05], "nice": false, "zero": false}, "axis": {"values": [0, 0.2, 0.4, 0.6, 0.8, 1], "format": ".1f", "title": "True Positive Rate", "tickSize": 3.5, "labelPadding": 2, "labelFontSize": 10.5, "titleFontSize": 10.5, "titlePadding": 4}},
               "color": {"field": "m", "type": "nominal", "sort": null,
                 "scale": {"domain": ["DeepSA", "GASA", "SAscore", "RAscore", "SYBA", "SCScore"], "range": ["#1f77b4", "#ff7f0e", "#2ca02c", "#d62728", "#9467bd", "#8c564b"]},
                 "legend": {"orient": "none", "legendX": 104, "legendY": 167, "title": null, "symbolType": "M130,0H151", "symbolSize": 4, "symbolStrokeWidth": 1.6, "labelAlign": "right", "labelOffset": 121, "labelLimit": 300, "labelFont": "DejaVu Sans", "labelFontSize": 10.4, "labelColor": "#222", "fillColor": "rgba(255,255,255,0.8)", "strokeColor": "#cccccc", "cornerRadius": 3, "padding": 5, "rowPadding": 2.5,
                   "labelExpr": "datum.label + ' AUROC=' + (datum.label == 'DeepSA' ? '0.896' : datum.label == 'GASA' ? '0.849' : datum.label == 'SAscore' ? '0.772' : datum.label == 'RAscore' ? '0.790' : datum.label == 'SYBA' ? '0.790' : '0.425')"}}
             }},
            {"data": {"name": "diag"}, "mark": {"type": "line", "color": "#000", "strokeDash": [5, 3], "strokeWidth": 1.5},
             "encoding": {"x": {"field": "x", "type": "quantitative"}, "y": {"field": "y", "type": "quantitative"}}}
          ]
        }
      ]
    }
  ]
}
